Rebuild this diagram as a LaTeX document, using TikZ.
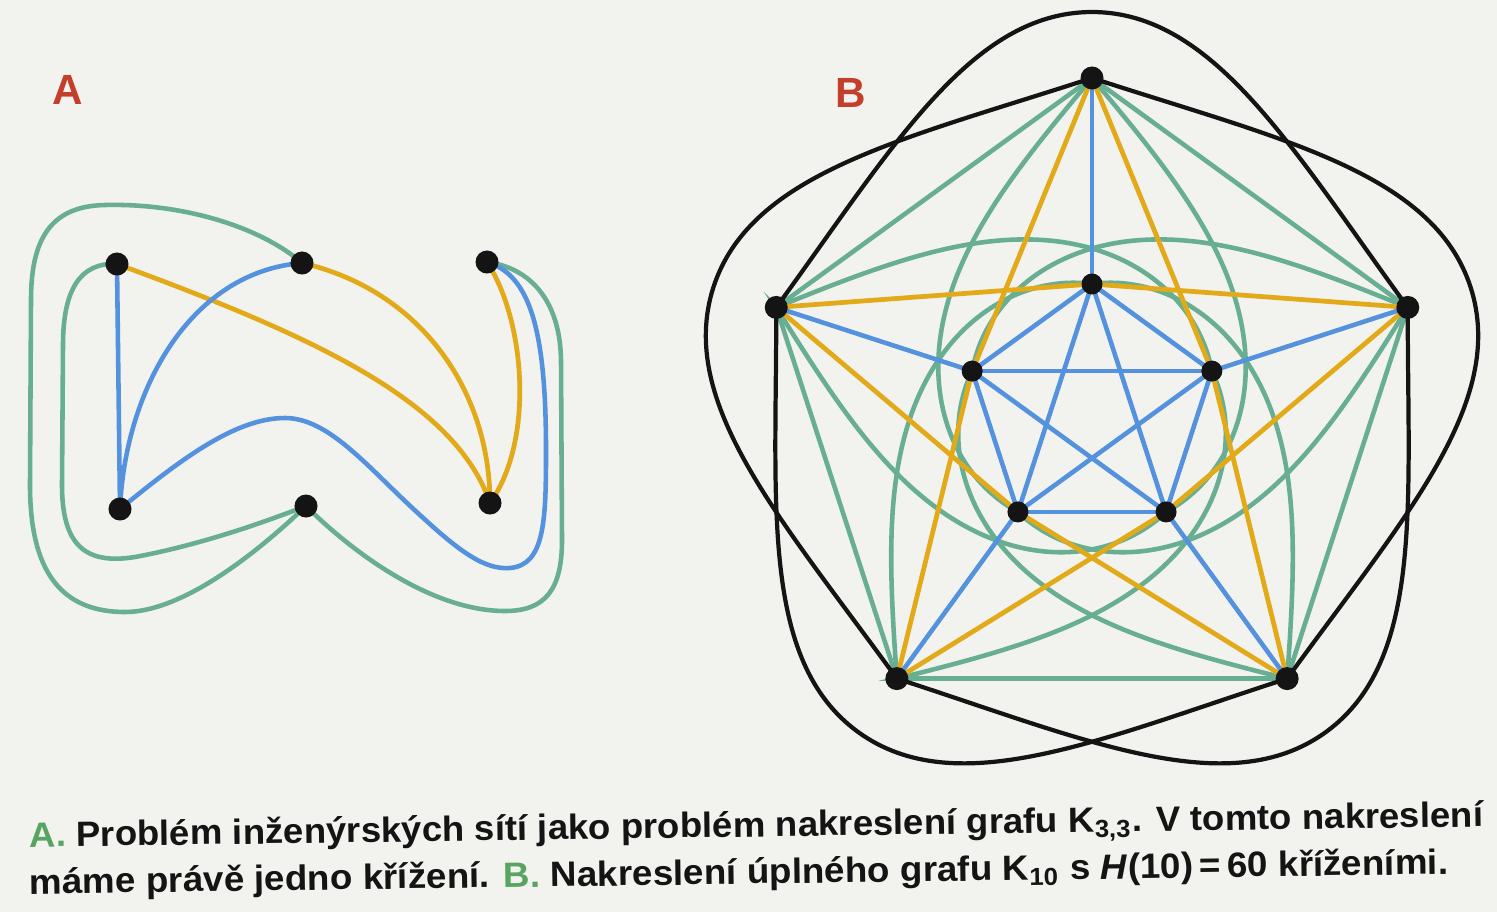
\documentclass[tikz,border=0pt]{standalone}
\usepackage{fontspec}
\setmainfont{Liberation Sans}
\usepackage{graphicx}
\definecolor{grn}{RGB}{104,174,146}
\definecolor{blu}{RGB}{84,146,222}
\definecolor{ylw}{RGB}{226,170,24}
\definecolor{lbl}{RGB}{196,62,44}
\definecolor{capgrn}{RGB}{88,164,96}
\definecolor{bg}{RGB}{242,242,239}
\definecolor{ink}{RGB}{20,20,20}
\begin{document}
\begin{tikzpicture}[x=0.01cm,y=-0.01cm,
  gedge/.style={draw=grn,line width=1.3pt},
  bedge/.style={draw=blu,line width=1.3pt},
  yedge/.style={draw=ylw,line width=1.35pt},
  kedge/.style={draw=ink,line width=1.2pt},
  dot/.style={circle,fill=ink,inner sep=0pt,minimum size=0.23cm},
  lab/.style={text=lbl,font=\fontsize{12}{14}\selectfont\bfseries,inner sep=0pt},
  captext/.style={text=ink,font=\fontsize{10}{12}\selectfont\bfseries,inner sep=0pt,anchor=base west,rotate=0.8}]
\fill[bg] (0,0) rectangle (1497,912);
\useasboundingbox (0,0) rectangle (1497,912);

% ---------- A ----------
\coordinate (a1) at (117,264);
\coordinate (a2) at (302,263);
\coordinate (a3) at (487,262);
\coordinate (b1) at (120,509);
\coordinate (b2) at (306,506);
\coordinate (b3) at (490,503);

\draw[gedge] (a1) .. controls (80,262) and (63,290) .. (63,345) -- (62,485)
  .. controls (62,545) and (85,565) .. (135,557) .. controls (200,545) and (265,522) .. (b2);
\draw[gedge] (a2) .. controls (262,228) and (185,203) .. (105,205) .. controls (50,206) and (31,240) .. (31,300)
  -- (30,485) .. controls (30,570) and (60,612) .. (125,612) .. controls (185,612) and (262,548) .. (b2);
\draw[gedge] (a3) .. controls (530,268) and (560,300) .. (561,360) -- (562,540)
  .. controls (562,590) and (545,611) .. (505,611) .. controls (430,611) and (350,550) .. (b2);

\draw[yedge] (a1) .. controls (310,335) and (455,400) .. (b3);
\draw[yedge] (a2) .. controls (420,290) and (490,390) .. (b3);
\draw[yedge] (a3) .. controls (525,320) and (535,440) .. (b3);

\draw[bedge] (a1) -- (b1);
\draw[bedge] (a2) .. controls (190,272) and (125,390) .. (b1);
\draw[bedge] (b1) .. controls (180,460) and (235,418) .. (285,418) .. controls (330,418) and (370,470) .. (420,515)
  .. controls (460,552) and (485,570) .. (510,568) .. controls (545,565) and (546,520) .. (546,450)
  .. controls (546,330) and (530,275) .. (a3);

\foreach \n in {a1,a2,a3,b1,b2,b3} \node[dot] (n\n) at (\n) {};

\node[lab] (labA) at (68,90) {A};

% ---------- B ----------
\coordinate (C) at (1092,410);
\foreach \k/\ang in {1/-90,2/-18,3/54,4/126,5/198} {
  \coordinate (O\k) at ([shift={(C)}]\ang:332);
  \coordinate (I\k) at ([shift={(C)}]\ang:126);
}

% green: outer sides
\foreach \i/\j in {1/2,2/3,3/4,4/5,5/1} \draw[gedge] (O\i) -- (O\j);
% green: spirals O_k -- I_{k+-2}
\foreach \k/\ang in {1/-90,2/-18,3/54,4/126,5/198} {
  \foreach \sg in {1,-1} {
    \draw[gedge] (O\k) -- plot[domain=0:1,samples=110,variable=\pp]
      ({1092+(126+206*(1-\pp)/(1+3.8*\pp))*cos(\ang+\sg*144*\pp)},
       {410+(126+206*(1-\pp)/(1+3.8*\pp))*sin(\ang+\sg*144*\pp)});
  }
}

% yellow
\foreach \i/\j in {1/5,1/2,2/1,2/3,3/2,3/4,4/3,4/5,5/4,5/1} \draw[yedge] (I\i) -- (O\j);

% blue
\foreach \k in {1,...,5} \draw[bedge] (I\k) -- (O\k);
\foreach \i/\j in {1/2,1/3,1/4,1/5,2/3,2/4,2/5,3/4,3/5,4/5} \draw[bedge] (I\i) -- (I\j);

% black outer diagonals
\foreach \p/\q/\ang in {O5/O2/-90,O1/O3/-18,O2/O4/54,O3/O5/126,O4/O1/198}
  \draw[kedge] (\p) .. controls ([shift={(C)}]\ang-37.5:329) and ([shift={(C)}]\ang-17:416)
    .. ([shift={(C)}]\ang:398) .. controls ([shift={(C)}]\ang+17:416) and ([shift={(C)}]\ang+37.5:329) .. (\q);

\foreach \k in {1,...,5} {
  \node[dot] (nO\k) at (O\k) {};
  \node[dot,minimum size=0.21cm] (nI\k) at (I\k) {};
}

\node[lab] (labB) at (851,93) {B};

% ---------- caption ----------
\node[captext] (cap1) at (29,847) {\resizebox{14.53cm}{\height}{\textcolor{capgrn}{A.} Problém inženýrských sítí jako problém nakreslení grafu K\textsubscript{3,3}. V tomto nakreslení}};
\node[captext] (cap2) at (29,894) {\resizebox{14.18cm}{\height}{máme právě jedno křížení. \textcolor{capgrn}{B.} Nakreslení úplného grafu K\textsubscript{10} s \textit{H}(10)\,=\,60 kříženími.}};
\end{tikzpicture}
\end{document}
